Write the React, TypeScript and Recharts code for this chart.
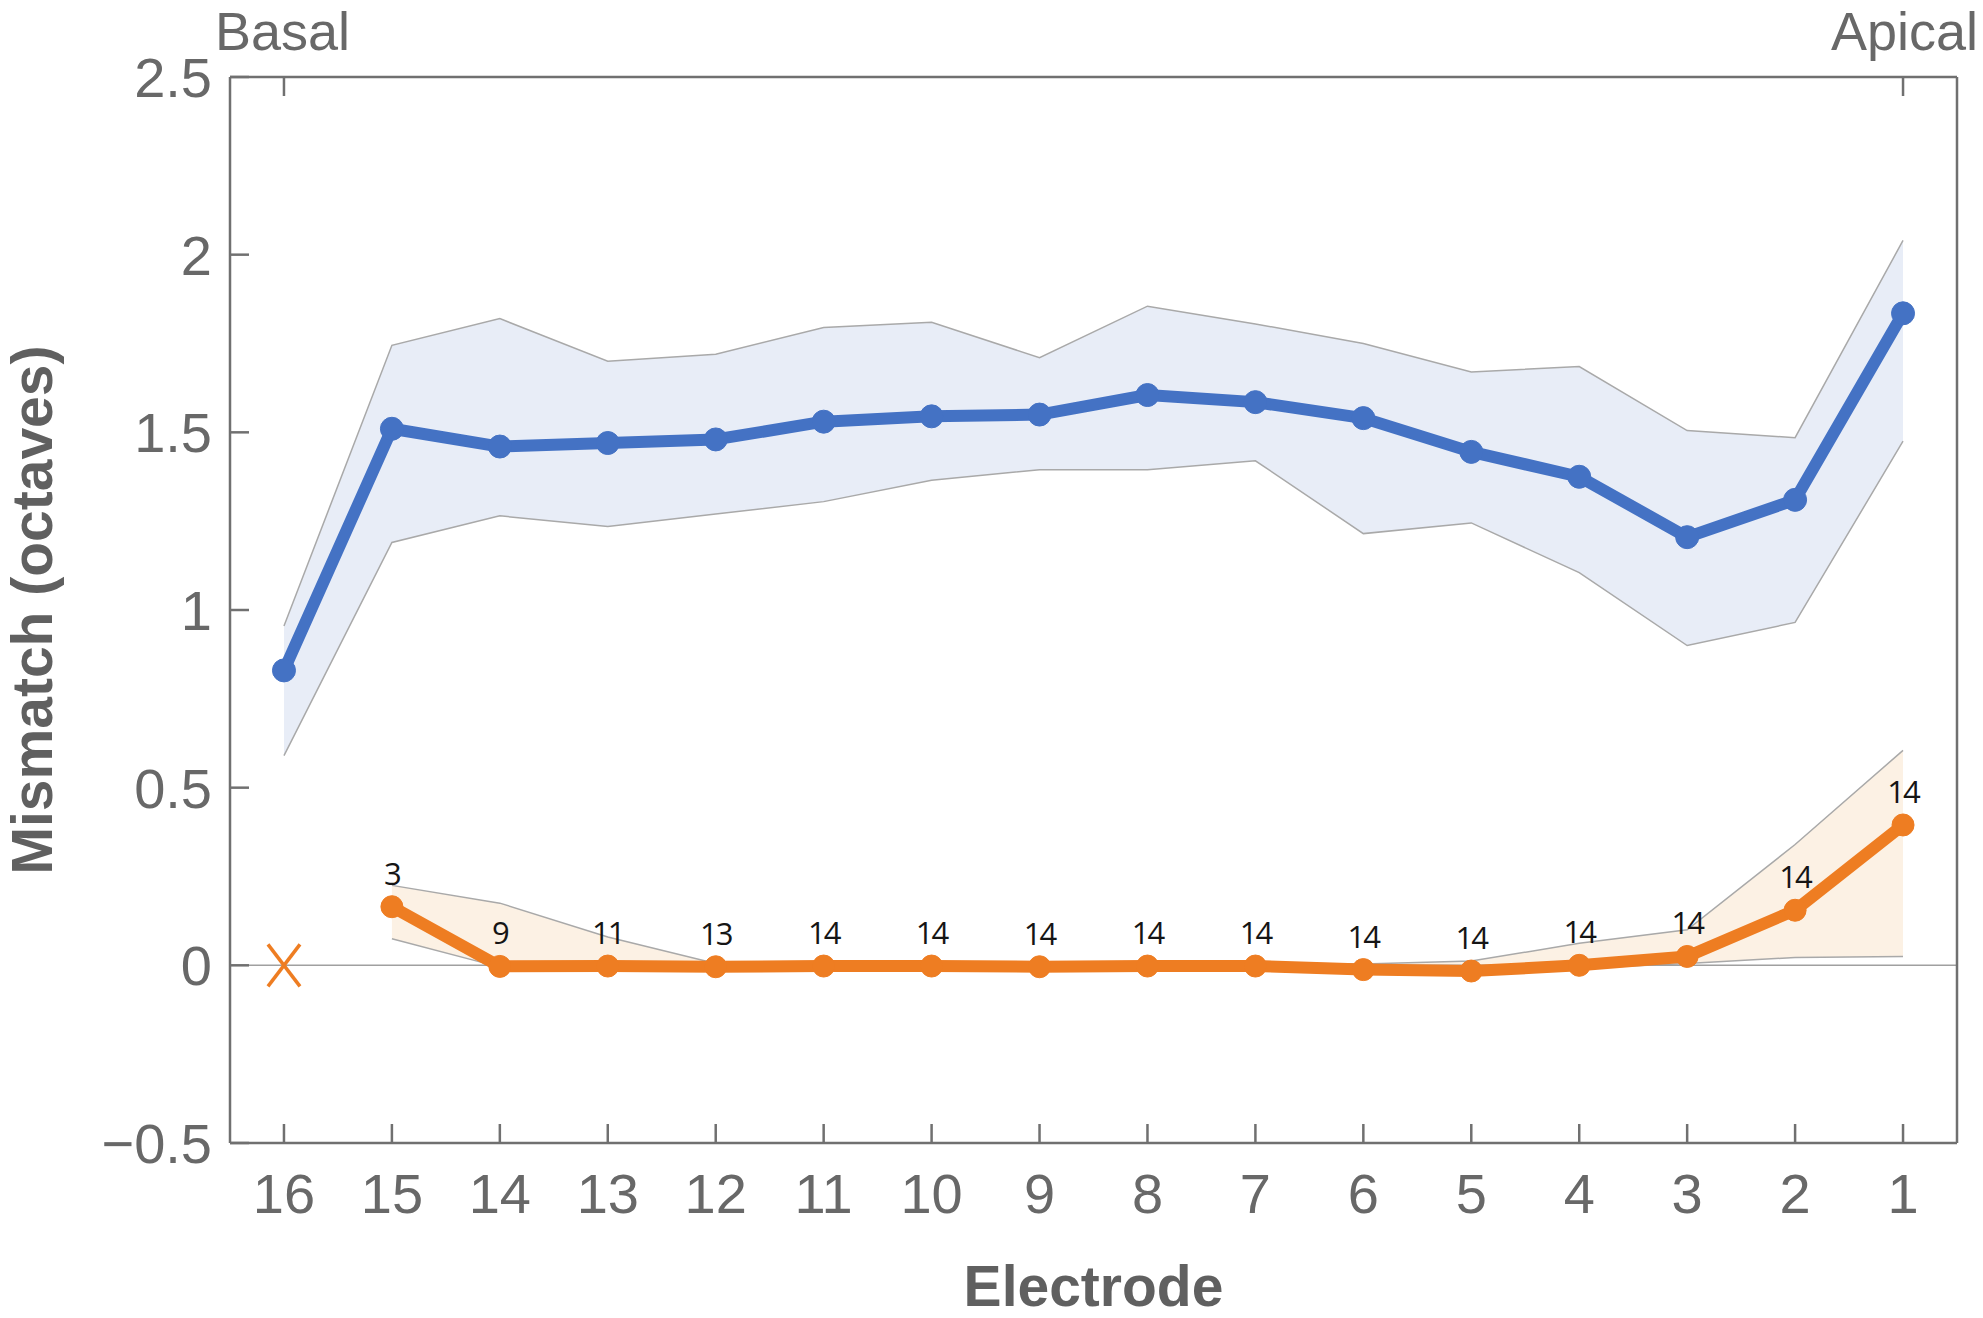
import React from 'react';
import {
  ComposedChart,
  Area,
  Line,
  Scatter,
  XAxis,
  YAxis,
  ReferenceLine,
  LabelList,
  Label,
} from 'recharts';

// electrodes run basal (16) -> apical (1)
const electrodes = [16, 15, 14, 13, 12, 11, 10, 9, 8, 7, 6, 5, 4, 3, 2, 1];

const blueMean = [0.83, 1.51, 1.46, 1.47, 1.48, 1.53, 1.545, 1.55, 1.605, 1.585, 1.54, 1.445, 1.375, 1.205, 1.31, 1.835];
const blueLow = [0.59, 1.19, 1.265, 1.235, 1.27, 1.305, 1.365, 1.395, 1.395, 1.42, 1.215, 1.245, 1.105, 0.9, 0.965, 1.475];
const blueHigh = [0.955, 1.745, 1.82, 1.7, 1.72, 1.795, 1.81, 1.71, 1.855, 1.805, 1.75, 1.67, 1.685, 1.505, 1.485, 2.04];

const orangeMean = [null, 0.165, -0.003, -0.002, -0.004, -0.002, -0.002, -0.004, -0.002, -0.002, -0.012, -0.016, 0.0, 0.025, 0.155, 0.395];
const orangeLow = [null, 0.075, -0.005, -0.006, -0.008, -0.008, -0.008, -0.008, -0.008, -0.008, -0.015, -0.02, -0.008, 0.005, 0.022, 0.025];
const orangeHigh = [null, 0.225, 0.175, 0.08, 0.005, 0.006, 0.006, 0.006, 0.006, 0.006, 0.004, 0.012, 0.062, 0.1, 0.34, 0.605];
const orangeN = [null, 3, 9, 11, 13, 14, 14, 14, 14, 14, 14, 14, 14, 14, 14, 14];

// electrode with no data for the orange group
const missingElectrodes = [16];

const yTicks = [-0.5, 0, 0.5, 1, 1.5, 2, 2.5];
const topTicks = [16, 1];

const data = electrodes.map((e, i) => ({
  electrode: e,
  blue: blueMean[i],
  blueBand: [blueLow[i], blueHigh[i]],
  orange: orangeMean[i],
  orangeBand: orangeMean[i] === null ? undefined : [orangeLow[i], orangeHigh[i]],
  n: orangeN[i],
}));

const missingData = missingElectrodes.map((e) => ({ electrode: e, value: 0 }));

const AXIS = '#707070';
const TEXT = '#686868';
const BLUE = '#4472c4';
const ORANGE = '#ee7d22';
const FONT = '"Liberation Sans", Arial, sans-serif';

function BottomTick(props: any) {
  const { x, y, payload } = props;
  return (
    <g>
      <line x1={x} x2={x} y1={y} y2={y - 19} stroke={AXIS} strokeWidth={2.5} />
      <text x={x} y={y + 70} textAnchor="middle" fill={TEXT} fontSize={56} fontFamily={FONT}>
        {payload.value}
      </text>
    </g>
  );
}

function TopTick(props: any) {
  const { x, y } = props;
  return <line x1={x} x2={x} y1={y} y2={y + 19} stroke={AXIS} strokeWidth={2.5} />;
}

function LeftTick(props: any) {
  const { x, y, payload } = props;
  const v = payload.value < 0 ? '\u2212' + String(-payload.value) : String(payload.value);
  return (
    <g>
      <line x1={x} x2={x + 19} y1={y} y2={y} stroke={AXIS} strokeWidth={2.5} />
      <text x={x - 18} y={y} dy="0.36em" textAnchor="end" fill={TEXT} fontSize={56} fontFamily={FONT}>
        {v}
      </text>
    </g>
  );
}

function XMark(props: any) {
  const { cx, cy } = props;
  return (
    <g stroke={ORANGE} strokeWidth={3.5}>
      <line x1={cx - 16} y1={cy - 21} x2={cx + 16} y2={cy + 21} />
      <line x1={cx + 16} y1={cy - 21} x2={cx - 16} y2={cy + 21} />
    </g>
  );
}

export default function App() {
  return (
    <div style={{ position: 'absolute', left: 0, top: 0, background: '#fff' }}>
      <ComposedChart
        width={1983}
        height={1318}
        data={data}
        margin={{ top: 0, right: 24, bottom: 0, left: 0 }}
      >
        <XAxis
          dataKey="electrode"
          type="number"
          domain={[0.5, 16.5]}
          reversed
          ticks={electrodes}
          interval={0}
          height={175}
          tickSize={0}
          tickMargin={0}
          tickLine={false}
          tick={BottomTick}
          axisLine={{ stroke: AXIS, strokeWidth: 2.5 }}
        >
          <Label
            value="Electrode"
            position="insideBottom"
            offset={12}
            fill="#606060"
            fontSize={57}
            fontWeight="bold"
            fontFamily={FONT}
          />
        </XAxis>
        <XAxis
          xAxisId="top"
          orientation="top"
          dataKey="electrode"
          type="number"
          domain={[0.5, 16.5]}
          reversed
          ticks={topTicks}
          height={77}
          tickSize={0}
          tickMargin={0}
          tickLine={false}
          tick={TopTick}
          axisLine={{ stroke: AXIS, strokeWidth: 2.5 }}
        >
          <Label
            content={(p: any) => (
              <g fill={TEXT} fontSize={54} fontFamily={FONT}>
                <text x={p.viewBox.x - 15} y={50}>Basal</text>
                <text x={1978} y={50} textAnchor="end">Apical</text>
              </g>
            )}
          />
        </XAxis>
        <YAxis
          type="number"
          domain={[-0.5, 2.5]}
          ticks={yTicks}
          interval={0}
          width={230}
          tickSize={0}
          tickMargin={0}
          tickLine={false}
          tick={LeftTick}
          axisLine={{ stroke: AXIS, strokeWidth: 2.5 }}
        >
          <Label
            value="Mismatch (octaves)"
            angle={-90}
            position="insideLeft"
            offset={32}
            style={{ textAnchor: 'middle' }}
            fill="#606060"
            fontSize={57}
            fontWeight="bold"
            fontFamily={FONT}
          />
        </YAxis>
        <YAxis
          yAxisId="right"
          orientation="right"
          type="number"
          domain={[-0.5, 2.5]}
          width={2}
          tick={false}
          tickLine={false}
          axisLine={{ stroke: AXIS, strokeWidth: 2.5 }}
        />

        <Area
          type="linear"
          dataKey="blueBand"
          stroke="#a9a9a9"
          strokeWidth={1.5}
          fill="#e8edf7"
          fillOpacity={1}
          isAnimationActive={false}
        />
        <Area
          type="linear"
          dataKey="orangeBand"
          stroke="#a9a9a9"
          strokeWidth={1.5}
          fill="#fcf1e4"
          fillOpacity={1}
          isAnimationActive={false}
        />
        <ReferenceLine y={0} stroke="#a0a0a0" strokeWidth={1.5} />
        <Line
          type="linear"
          dataKey="blue"
          stroke={BLUE}
          strokeWidth={12}
          strokeLinejoin="round"
          dot={{ r: 11.5, fill: BLUE, stroke: BLUE, strokeWidth: 1 }}
          isAnimationActive={false}
        />
        <Line
          type="linear"
          dataKey="orange"
          stroke={ORANGE}
          strokeWidth={12}
          strokeLinejoin="round"
          dot={{ r: 11, fill: ORANGE, stroke: ORANGE, strokeWidth: 1 }}
          isAnimationActive={false}
        >
          <LabelList
            dataKey="n"
            position="top"
            offset={22}
            fill="#151515"
            fontSize={31}
            fontFamily='"Open Sans", sans-serif'
            letterSpacing={-2}
          />
        </Line>
        <Scatter data={missingData} dataKey="value" shape={XMark} isAnimationActive={false} />
      </ComposedChart>
    </div>
  );
}
